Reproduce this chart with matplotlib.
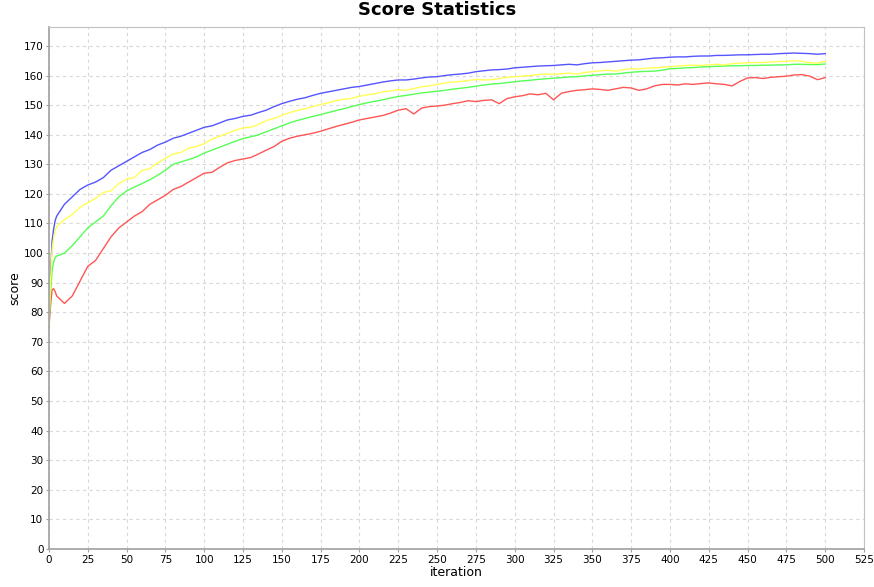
#!/usr/bin/env python3

import matplotlib
matplotlib.use("Agg")
import matplotlib.pyplot as plt
from matplotlib.ticker import MultipleLocator

iterations = [0, 1, 2, 3, 4] + list(range(5, 501, 5))

score_max = [76, 92, 104, 108, 111,
             112.5, 116.5, 119, 121.5, 123, 124, 125.5, 128, 129.5, 131,
             132.5, 134, 135, 136.5, 137.5, 138.8, 139.5, 140.5, 141.5, 142.5,
             143, 144, 145, 145.5, 146.2, 146.6, 147.5, 148.3, 149.5, 150.5,
             151.3, 152, 152.5, 153.3, 154, 154.5, 155, 155.5, 156, 156.3,
             156.8, 157.3, 157.8, 158.2, 158.5, 158.5, 158.8, 159.2, 159.5, 159.6,
             160, 160.3, 160.5, 160.8, 161.3, 161.6, 161.9, 162, 162.2, 162.6,
             162.8, 163, 163.2, 163.3, 163.4, 163.6, 163.8, 163.6, 164, 164.3,
             164.4, 164.6, 164.8, 165, 165.2, 165.3, 165.6, 165.9, 166, 166.2,
             166.3, 166.3, 166.5, 166.6, 166.6, 166.8, 166.8, 166.9, 167, 167,
             167.1, 167.2, 167.2, 167.4, 167.5, 167.6, 167.5, 167.4, 167.2, 167.4]

score_q3 = [76, 90, 101, 105, 107.5,
            109, 111.3, 113, 115.5, 117, 118.5, 120.5, 121, 123.5, 125,
            125.5, 128, 128.5, 130.5, 132, 133.5, 134, 135.5, 136, 137,
            138.5, 139.5, 140.5, 141.5, 142.3, 142.5, 143.5, 144.8, 145.5, 146.5,
            147.5, 148.2, 148.8, 149.5, 150.2, 150.8, 151.5, 152, 152.3, 153,
            153.5, 153.8, 154.5, 154.8, 155.2, 155, 155.6, 156.2, 156.5, 157,
            157.5, 157.8, 158, 158.3, 158.7, 158.5, 158.6, 159, 159.4, 159.6,
            159.8, 160, 160.3, 160.5, 160.4, 160.6, 160.8, 160.5, 161, 161.3,
            161.6, 161.8, 161.5, 162, 162.3, 162.2, 162.5, 162.6, 162.8, 163,
            163.2, 163.4, 163.5, 163.4, 163.6, 163.8, 163.6, 164, 164.2, 164.3,
            164.4, 164.4, 164.6, 164.7, 164.8, 165, 164.8, 164.3, 164.2, 164.8]

score_avg = [76, 86, 94, 97, 98.5,
             99, 100, 102.5, 105.5, 108.5, 110.5, 112.5, 116, 119, 121,
             122.3, 123.5, 124.8, 126.3, 128, 130, 130.8, 131.6, 132.5, 133.8,
             134.8, 135.8, 136.8, 137.8, 138.7, 139.3, 140, 141, 142, 143,
             144, 144.8, 145.5, 146.2, 146.8, 147.5, 148.2, 148.8, 149.5, 150.2,
             150.8, 151.3, 151.8, 152.4, 152.9, 153.3, 153.7, 154.1, 154.4, 154.7,
             155, 155.4, 155.7, 156, 156.4, 156.8, 157.1, 157.3, 157.6, 157.9,
             158.2, 158.4, 158.7, 158.9, 159.1, 159.3, 159.5, 159.6, 159.9, 160.1,
             160.3, 160.5, 160.5, 160.8, 161.1, 161.3, 161.4, 161.5, 161.8, 162.3,
             162.4, 162.6, 162.7, 162.9, 163, 163.1, 163.2, 163.3, 163.3, 163.4,
             163.4, 163.5, 163.5, 163.6, 163.6, 163.8, 163.8, 163.7, 163.7, 163.9]

score_min = [75, 82, 87.5, 88, 87,
             85.5, 83, 85.5, 90.5, 95.5, 97.5, 101.5, 105.5, 108.5, 110.5,
             112.5, 114, 116.5, 118, 119.5, 121.5, 122.5, 124, 125.5, 127,
             127.3, 129, 130.5, 131.3, 131.8, 132.3, 133.5, 134.8, 136, 137.8,
             138.8, 139.5, 140, 140.5, 141.2, 142, 142.8, 143.5, 144.2, 145,
             145.5, 146, 146.5, 147.3, 148.3, 148.8, 147, 149, 149.5, 149.7,
             150, 150.5, 150.9, 151.5, 151.2, 151.6, 151.8, 150.5, 152.2, 152.8,
             153.2, 153.8, 153.5, 154, 151.8, 154, 154.6, 155, 155.2, 155.5,
             155.3, 155, 155.5, 156, 155.8, 155, 155.5, 156.5, 157, 157,
             156.8, 157.2, 157, 157.3, 157.5, 157.2, 157, 156.5, 158, 159.2,
             159.3, 159, 159.4, 159.6, 159.8, 160.2, 160.3, 159.8, 158.6, 159.3]

fig = plt.figure(figsize=(8.74, 5.87), dpi=100)
ax = fig.add_axes([0.056, 0.0647, 0.9326, 0.8893])

# JFreeChart style series colours
ax.plot(iterations, score_min, color="#ff5555", lw=1.0)
ax.plot(iterations, score_max, color="#5555ff", lw=1.0)
ax.plot(iterations, score_avg, color="#55ff55", lw=1.0)
ax.plot(iterations, score_q3, color="#ffff55", lw=1.0)

ax.set_xlim(0, 525)
ax.set_ylim(0, 176.4)
ax.xaxis.set_major_locator(MultipleLocator(25))
ax.yaxis.set_major_locator(MultipleLocator(10))
ax.set_yticks(range(0, 171, 10))
ax.grid(True, color="#d8d8d8", linestyle=(0, (3, 3)), linewidth=0.8)
ax.set_axisbelow(True)

for side in ["top", "right"]:
    ax.spines[side].set_color("#c0c0c0")
for side in ["left", "bottom"]:
    ax.spines[side].set_color("#a0a0a0")
    ax.spines[side].set_linewidth(1.2)
ax.tick_params(length=2, color="#a0a0a0", labelsize=7.5, pad=2)

ax.set_xlabel("iteration", fontsize=9, labelpad=1)
ax.set_ylabel("score", fontsize=9, labelpad=2)
fig.suptitle("Score Statistics", fontsize=13, fontweight="bold", y=0.999)

plt.savefig("out.png")
plt.close()
